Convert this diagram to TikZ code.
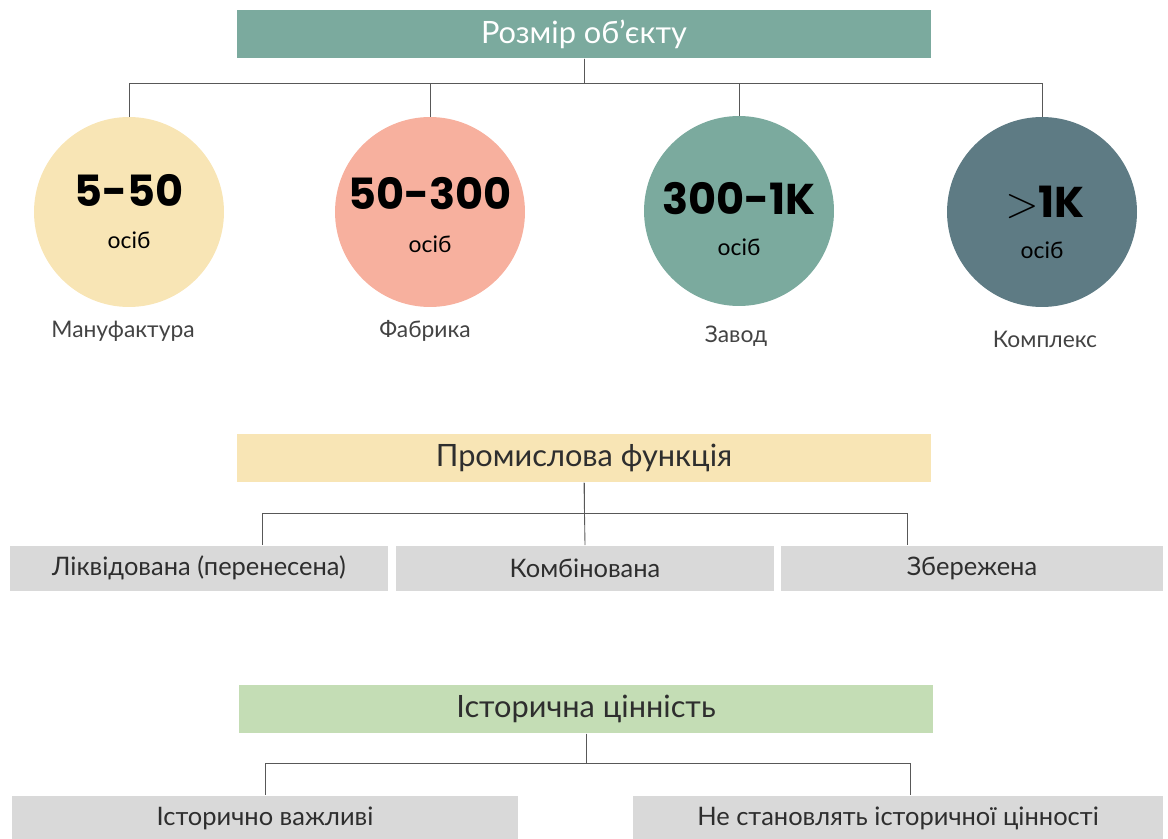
\documentclass[tikz,border=0pt]{standalone}
\usepackage{fontspec}
\setmainfont{Lato}
\newfontfamily\numfont{Poppins}
\definecolor{sand}{HTML}{F8E5B5}
\definecolor{salmon}{HTML}{F7B09E}
\definecolor{sage}{HTML}{7BAA9E}
\definecolor{slate}{HTML}{5E7B84}
\definecolor{mint}{HTML}{C4DDB5}
\definecolor{lgray}{HTML}{D9D9D9}
\definecolor{ink}{HTML}{2E2E2E}
\begin{document}
\begin{tikzpicture}[x=0.02cm,y=-0.02cm,
      hdr/.style={rectangle,inner sep=0pt,minimum width=13.9cm,minimum height=0.97cm,
        font=\fontsize{17.5}{21}\selectfont,text=ink},
      opt/.style={rectangle,fill=lgray,inner sep=0pt,minimum height=0.9cm,
        font=\fontsize{14.5}{17}\selectfont,text=ink},
      disc/.style={circle,inner sep=0pt,minimum size=3.8cm},
      num/.style={font=\numfont\bfseries\fontsize{24.5}{28}\selectfont},
      unit/.style={font=\fontsize{13}{15}\selectfont},
      lbl/.style={font=\fontsize{13}{16}\selectfont,text=ink!90},
      conn/.style={draw=ink!80,line width=0.5pt}]
      \useasboundingbox (0,0) rectangle (1168,838);
      % size
      \node[hdr,fill=sage,text=white] (size) at (584,34) {Розмір об’єкту};
      \node[disc,fill=sand] (c1) at (129,212) {};
      \node[disc,fill=salmon] (c2) at (430,212) {};
      \node[disc,fill=sage] (c3) at (739,211) {};
      \node[disc,fill=slate] (c4) at (1042,212) {};
      \foreach \c in {c1,c2,c3,c4}
        \draw[conn] (size.south) -- (size.south |- 0,83) -| (\c.north);
      \node[num] (n1) at (129,190) {5-50};
      \node[num] (n2) at (430,194) {50-300};
      \node[num] (n3) at (739,199) {300-1K};
      \node[num] (n4) at (1045,202) {$>$1K};
      \node[unit] (u1) at (129,240) {осіб};
      \node[unit] (u2) at (430,244) {осіб};
      \node[unit] (u3) at (739,247) {осіб};
      \node[unit] (u4) at (1042,250) {осіб};
      \node[lbl] (l1) at (123,331) {Мануфактура};
      \node[lbl] (l2) at (425,331) {Фабрика};
      \node[lbl] (l3) at (736,336) {Завод};
      \node[lbl] (l4) at (1045,339) {Комплекс};
      % function
      \node[hdr,fill=sand] (func) at (584,458) {Промислова функція};
      \node[opt,minimum width=7.56cm] (f1) at (199,568) {Ліквідована (перенесена)};
      \node[opt,minimum width=7.56cm] (f2) at (585,568) {Комбінована};
      \node[opt,minimum width=7.64cm] (f3) at (972,568) {Збережена};
      \draw[conn] (func.south) -- (f2.north);
      \draw[conn] (func.south) -- (func.south |- 0,513) -| ([xshift=1.26cm]f1.north);
      \draw[conn] (func.south) -- (func.south |- 0,513) -| ([xshift=-1.3cm]f3.north);
      % history
      \node[hdr,fill=mint] (hist) at (586,709) {Історична цінність};
      \node[opt,minimum width=10.12cm] (h1) at (265,818) {Історично важливі};
      \node[opt,minimum width=10.6cm] (h2) at (898,818) {Не становлять історичної цінності};
      \draw[conn] (hist.south) -- (hist.south |- 0,763) -| (h1.north);
      \draw[conn] (hist.south) -- (hist.south |- 0,763) -| ([xshift=0.24cm]h2.north);
\end{tikzpicture}
\end{document}
